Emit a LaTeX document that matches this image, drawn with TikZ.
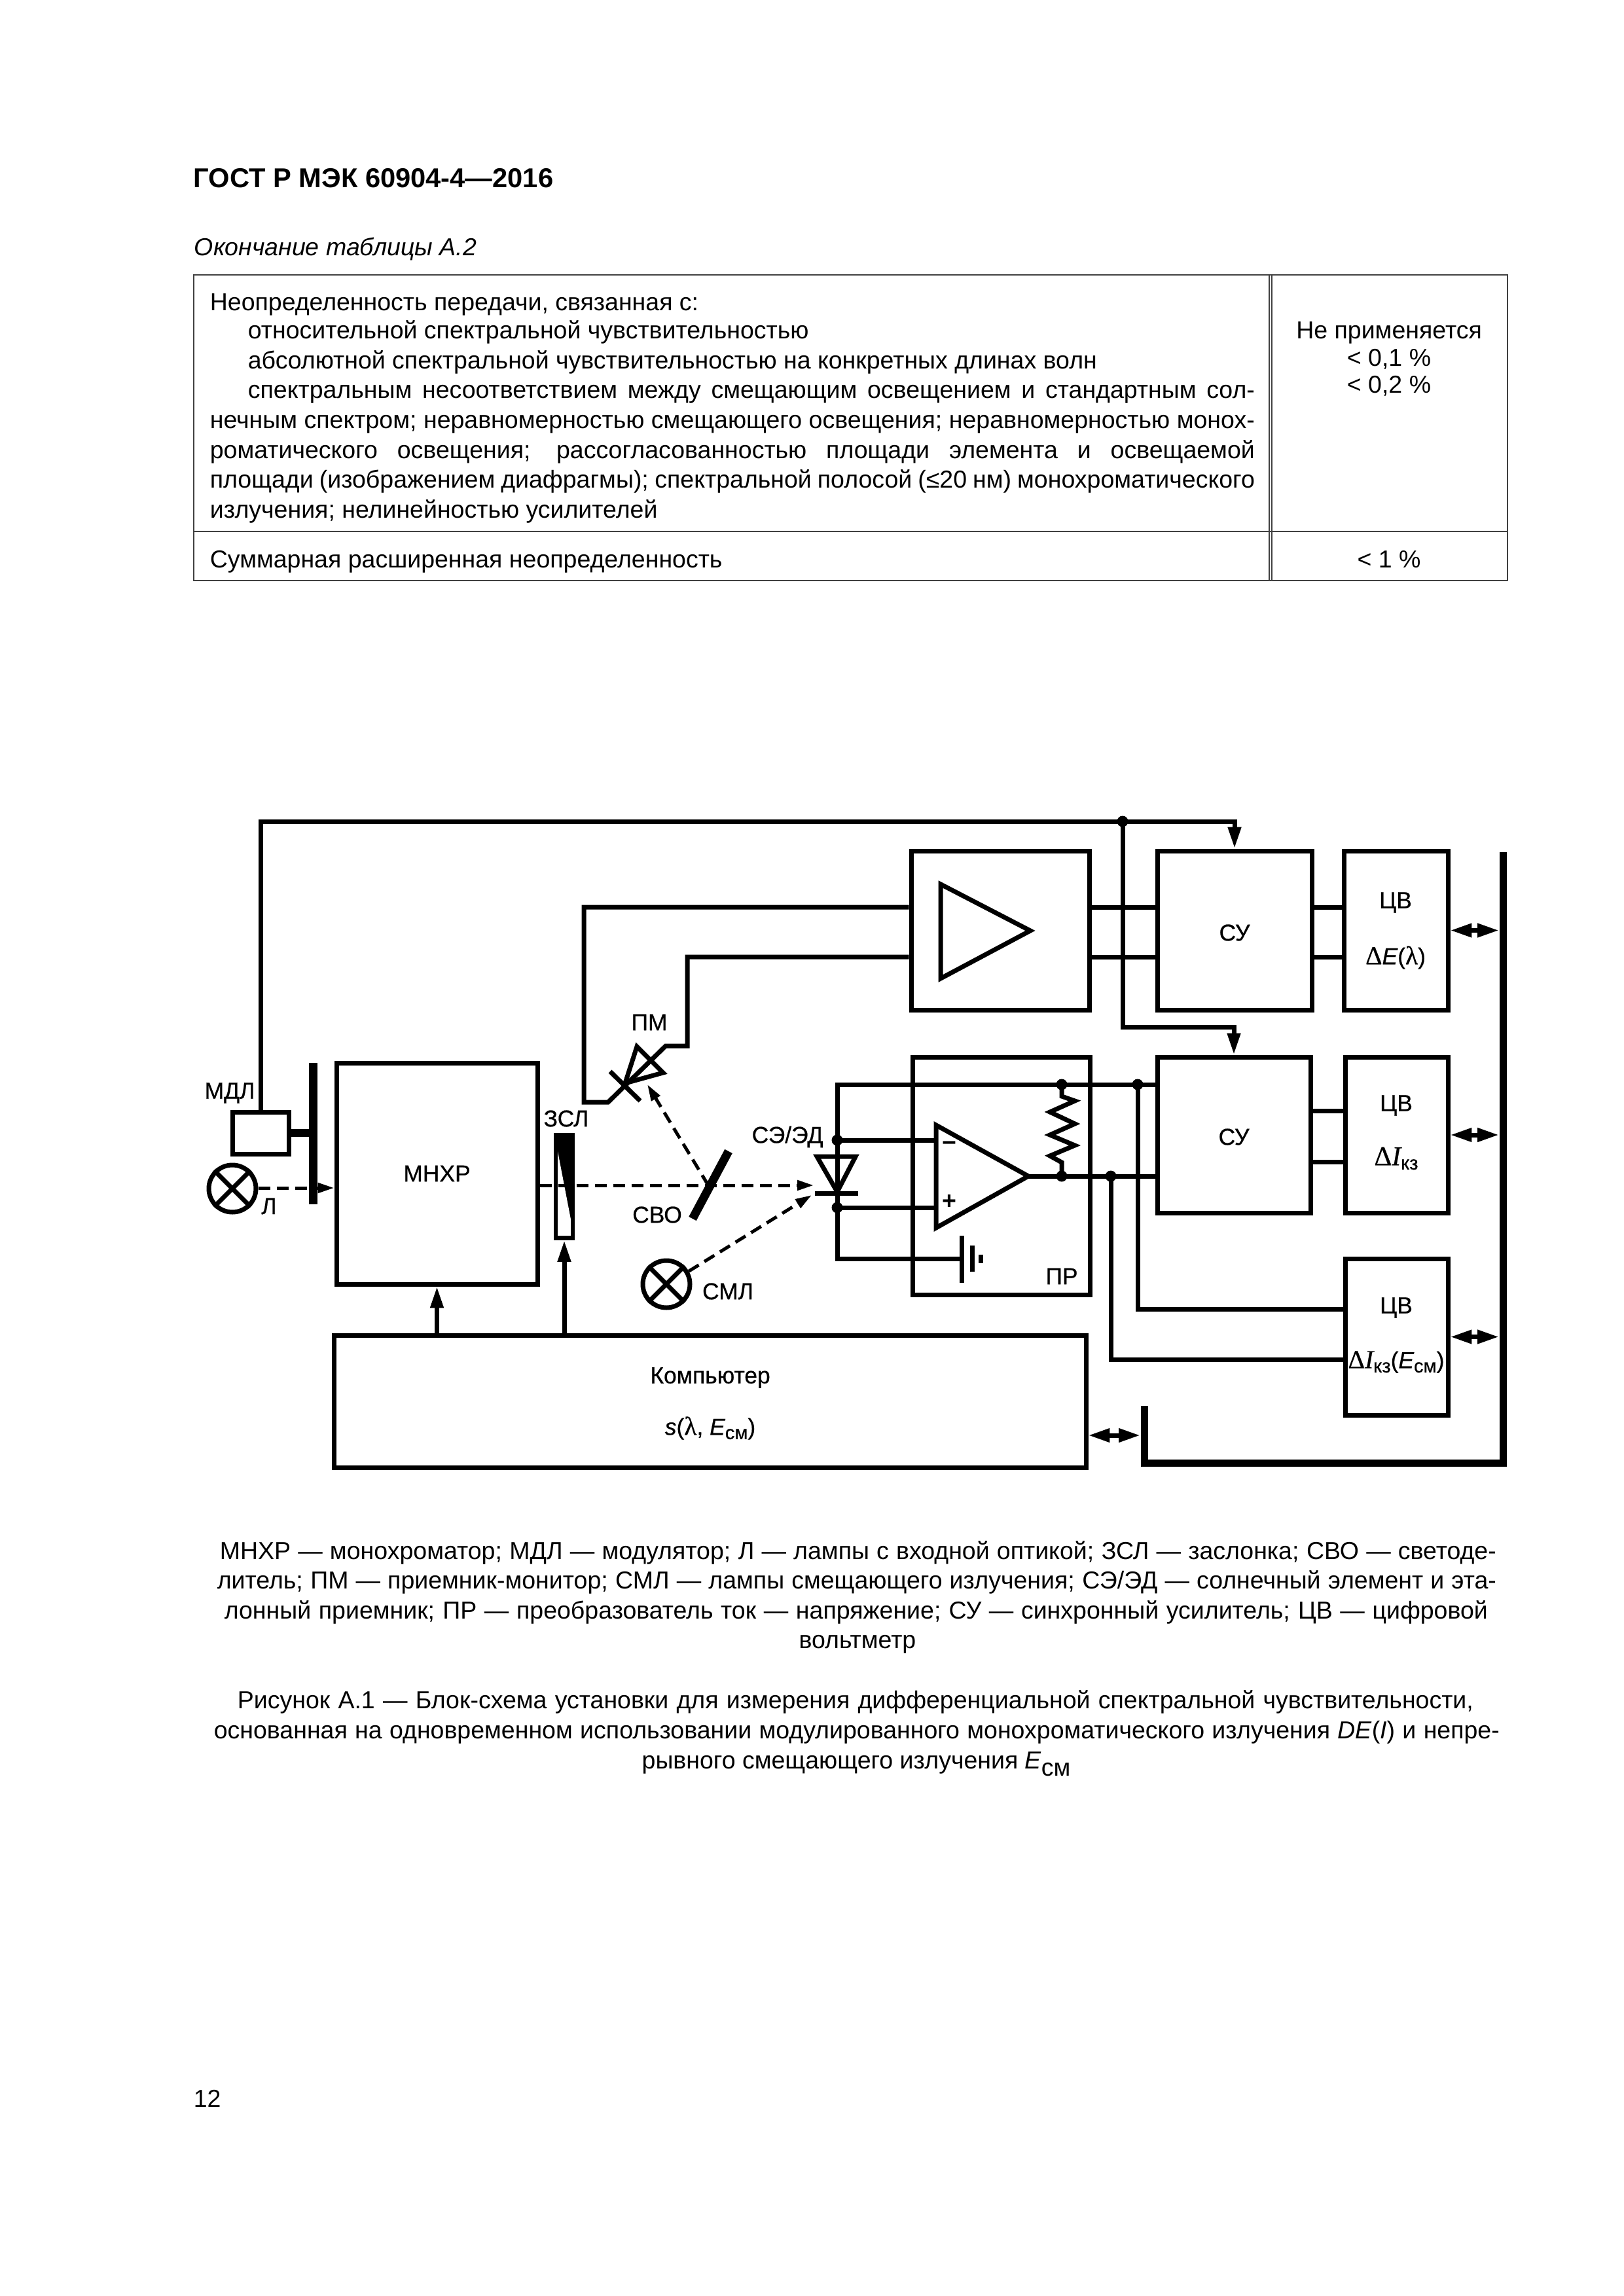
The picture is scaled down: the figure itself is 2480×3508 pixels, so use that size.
\documentclass[tikz,border=0pt]{standalone}
\usepackage{fontspec}
\setmainfont{Liberation Sans}
\newfontfamily\labf[FakeBold=0.6]{Liberation Sans}
\newfontfamily\symb{Liberation Serif}
\newfontfamily\symbb[FakeBold=0.6]{Liberation Serif}
\usetikzlibrary{arrows.meta}
\newcommand{\sbs}[1]{\raisebox{-0.35ex}{\fontsize{7}{8}\selectfont #1}}
\newcommand{\fitline}[2]{\makebox[\dimexpr 0.24pt*#1\relax][s]{#2}}
\tikzset{
  wire/.style={line width=7*0.24pt},
  box/.style 2 args={draw,line width=7*0.24pt,inner sep=0pt,minimum width=#1*0.24pt,minimum height=#2*0.24pt,font=\fontsize{8.5}{10}\labf},
  lab/.style={inner sep=0pt,font=\fontsize{8.5}{10}\labf},
  txt/.style={inner sep=0pt,anchor=base west,font=\fontsize{9}{11}\selectfont},
  ctr/.style={inner sep=0pt,anchor=base,font=\fontsize{9}{11}\selectfont},
  rule/.style={line width=2*0.24pt,black!75},
  lamp/.style={circle,draw,line width=7*0.24pt,minimum size=72*0.24pt,inner sep=0pt},
  dotn/.style={circle,fill=black,minimum size=17*0.24pt,inner sep=0pt},
  ray/.style={line width=5*0.24pt,dash pattern=on 18*0.24pt off 10*0.24pt,-{Triangle[length=6pt,width=3.6pt]}},
  sig/.style={wire,-{Triangle[length=7.9pt,width=4.6pt]}},
  both/.style={wire,{Triangle[length=7.9pt,width=4.8pt]}-{Triangle[length=7.9pt,width=4.8pt]}}
}
\begin{document}
\begin{tikzpicture}[x=0.24pt,y=-0.24pt]
  \useasboundingbox[fill=white] (0,0) rectangle (2480,3508);

  \node[txt,font=\fontsize{10}{11}\selectfont\bfseries] (head) at (295,287) {ГОСТ Р МЭК 60904-4—2016};
  \node[txt,font=\fontsize{9}{11}\selectfont\itshape] (cont) at (296,391) {Окончание таблицы А.2};

  % table
  \draw[rule] (296,420) rectangle (2303,887);
  \draw[rule] (296,812) -- (2303,812);
  \draw[rule] (1939,420) -- (1939,887);
  \draw[rule] (1943,420) -- (1943,887);
  \node[txt] (t1) at (320,475) {Неопределенность передачи, связанная с:};
  \node[txt] (t2) at (378,518) {относительной спектральной чувствительностью};
  \node[txt] (t3) at (378,564) {абсолютной спектральной чувствительностью на конкретных длинах волн};
  \node[txt] (t4) at (378,609) {\fitline{1538}{спектральным несоответствием между смещающим освещением и стандартным сол-}};
  \node[txt] (t5) at (320,655) {\fitline{1596}{нечным спектром; неравномерностью смещающего освещения; неравномерностью монох-}};
  \node[txt] (t6) at (320,701) {\fitline{1596}{роматического освещения; рассогласованностью площади элемента и освещаемой}};
  \node[txt] (t7) at (320,746) {\fitline{1596}{площади (изображением диафрагмы); спектральной полосой (≤20 нм) монохроматического}};
  \node[txt] (t8) at (320,792) {излучения; нелинейностью усилителей};
  \node[txt] (t9) at (320,868) {Суммарная расширенная неопределенность};
  \node[ctr] (r1) at (2122,518) {Не применяется};
  \node[ctr] (r2) at (2122,560) {< 0,1 \%};
  \node[ctr] (r3) at (2122,601) {< 0,2 \%};
  \node[ctr] (r4) at (2122,868) {< 1 \%};

  % boxes
  \node[box={86}{64}] (mdl) at (398,1731) {};
  \node[box={307}{338}] (mnhr) at (667.5,1793) {МНХР};
  \node[box={1149}{202}] (comp) at (1084.5,2141) {};
  \node[box={272}{243}] (amp) at (1528,1421.5) {};
  \node[box={236}{243}] (su1) at (1886,1421.5) {};
  \node[box={159}{243}] (cv1) at (2132.5,1421.5) {};
  \node[box={271}{363}] (pr) at (1529.5,1796.5) {};
  \node[box={234}{238}] (su2) at (1885,1734) {};
  \node[box={157}{238}] (cv2) at (2133.5,1734) {};
  \node[box={157}{239}] (cv3) at (2133.5,2042.5) {};
  \node[lamp] (lamp1) at (355,1816) {};
  \node[lamp] (lamp2) at (1018,1962) {};
  \foreach \name in {lamp1,lamp2} {
    \draw[wire] (\name.45) -- (\name.225);
    \draw[wire] (\name.135) -- (\name.-45);
  }

  % labels
  \node[lab] (lmdl) at (351,1670) {МДЛ};
  \node[lab] (ll) at (411,1843) {Л};
  \node[lab] (lzsl) at (865,1709) {ЗСЛ};
  \node[lab] (lpm) at (992,1562) {ПМ};
  \node[lab] (lsvo) at (1004,1856) {СВО};
  \node[lab] (lsml) at (1112,1973) {СМЛ};
  \node[lab] (lsed) at (1203,1737) {СЭ/ЭД};
  \node[lab] (lpr) at (1622,1950) {ПР};
  \node[lab] (lsu1) at (1886,1425) {СУ};
  \node[lab] (lsu2) at (1885,1737) {СУ};
  \node[lab] (lcomp) at (1085,2105) {Компьютер};
  \node[lab] (ls) at (1085,2182) {{\itshape s}({\symbb\fontsize{9.5}{10}\selectfont λ}, {\itshape E}\sbs{см})};
  \node[lab] (c1a) at (2132,1379) {ЦВ};
  \node[lab] (c1b) at (2132,1463) {{\symbb\fontsize{9.5}{10}\selectfont Δ}{\itshape E}({\symbb\fontsize{9.5}{10}\selectfont λ})};
  \node[lab] (c2a) at (2133,1689) {ЦВ};
  \node[lab] (c2b) at (2133,1770) {{\symbb\fontsize{10}{10}\selectfont Δ\itshape I}\sbs{кз}};
  \node[lab] (c3a) at (2133,1998) {ЦВ};
  \node[lab] (c3b) at (2133,2081) {{\symbb\fontsize{9.5}{10}\selectfont Δ\itshape I}\sbs{кз}({\itshape E}\sbs{см})};
  \node[lab,font=\fontsize{9}{10}\selectfont\bfseries] (lminus) at (1450,1751) {−};
  \node[lab,font=\fontsize{9}{10}\selectfont\bfseries] (lplus) at (1450,1836) {+};

  % junctions
  \foreach \name/\xx/\yy in {j0/1715/1255, j1/1279/1742, j2/1279/1845, j3/1622/1657, j4/1738/1657, j5/1622/1797, j6/1697/1797}
    \node[dotn] (\name) at (\xx,\yy) {};

  % amplifiers
  \draw[wire] (1437,1351) -- (1437,1495) -- (1574,1422) -- cycle;
  \draw[wire] (1430,1719) -- (1430,1876) -- (1571,1797) -- cycle;
  \coordinate (oain) at (1430,1797);
  \coordinate (oaout) at (1571,1797);

  % modulator, shutter, mirror
  \draw[line width=13*0.24pt] (478,1624) -- (478,1840);
  \draw[line width=12*0.24pt] (mdl.east) -- (478,1731);
  \fill (849,1734) rectangle (875,1892);
  \fill[white] (852,1759) -- (852,1888) -- (872,1888) -- (872,1863) -- cycle;
  \draw[line width=6*0.24pt] (849,1734) rectangle (875,1892);
  \coordinate (zsl) at (862,1895);
  \draw[line width=13*0.24pt] (1113,1759) -- (1058,1862);

  % optical paths
  \coordinate (se1) at (1243,1811);
  \coordinate (se2) at (1240,1826);
  \coordinate (sv) at (1082,1811);
  \coordinate (pm) at (989,1657);
  \draw[ray] (lamp1.east |- 0,1815) -- (mnhr.west |- 0,1815);
  \draw[ray] (mnhr.east |- 0,1811) -- (se1);
  \draw[ray] (sv) -- (pm);
  \draw[ray] (lamp2.30) -- (se2);

  % monitor
  \draw[wire] (973,1599) -- (1013,1639) -- (955,1655) -- cycle;
  \draw[wire] (932,1637) -- (978,1682);
  \draw[wire] (amp.west |- 0,1386) -- (892,1386) -- (892,1684) -- (929,1684) -- (1017,1598) -- (1050,1598) -- (1050,1462) -- (amp.west |- 0,1462);
  \foreach \yy in {1386,1462} {
    \draw[wire] (amp.east |- 0,\yy) -- (su1.west |- 0,\yy);
    \draw[wire] (su1.east |- 0,\yy) -- (cv1.west |- 0,\yy);
  }

  % control lines
  \draw[sig] (mdl.north) |- (j0.center) -| (su1.north);
  \draw[sig] (j0.center) -- (1715,1569) -| (su2.north);
  \draw[sig] (comp.north -| mnhr.south) -- (mnhr.south);
  \draw[sig] (comp.north -| zsl) -- (zsl);

  % photocell and converter
  \draw[wire] (su2.west |- 0,1657) -- (1279,1657) -- (1279,1923) -- (1469,1923);
  \draw[wire] (j1.center) -- (oain |- j1);
  \draw[wire] (j2.center) -- (oain |- j2);
  \draw[wire] (oaout) -- (oaout -| su2.west);
  \draw[wire] (1248,1767) -- (1307,1767) -- (1279,1821) -- cycle;
  \draw[wire] (1245,1823) -- (1311,1823);
  \draw[wire] (j3.center) -- (1622,1675) -- (1642,1682) -- (1604,1699) -- (1642,1717) -- (1604,1734) -- (1642,1750) -- (1604,1766) -- (1622,1776) -- (j5.center);
  \draw[wire] (1469,1888) -- (1469,1960);
  \draw[wire] (1485,1903) -- (1485,1943);
  \draw[wire] (1498,1917) -- (1498,1930);
  \foreach \yy in {1697,1775}
    \draw[wire] (su2.east |- 0,\yy) -- (cv2.west |- 0,\yy);
  \draw[wire] (j4.center) |- (cv3.west |- 0,2000);
  \draw[wire] (j6.center) |- (cv3.west |- 0,2077);

  % bus
  \draw[line width=11*0.24pt] (2296,1302) -- (2296,2235) -- (1748,2235) -- (1748,2148);
  \coordinate (busl) at (2290,1302);
  \coordinate (busk) at (1742,2193);
  \foreach \from in {cv1,cv2,cv3}
    \draw[both] (\from.east) -- (\from.east -| busl);
  \draw[both] (comp.east |- busk) -- (busk);

  % caption
  \node[txt] (k1) at (335,2382) {\fitline{1950}{МНХР — монохроматор; МДЛ — модулятор; Л — лампы с входной оптикой; ЗСЛ — заслонка; СВО — светоде-}};
  \node[txt] (k2) at (331,2427) {\fitline{1954}{литель; ПМ — приемник-монитор; СМЛ — лампы смещающего излучения; СЭ/ЭД — солнечный элемент и эта-}};
  \node[txt] (k3) at (342,2473) {\fitline{1930}{лонный приемник; ПР — преобразователь ток — напряжение; СУ — синхронный усилитель; ЦВ — цифровой}};
  \node[ctr] (k4) at (1310,2518) {вольтметр};
  \node[txt] (f1) at (362,2610) {\fitline{1888}{Рисунок  А.1 — Блок-схема установки для измерения дифференциальной спектральной чувствительности,}};
  \node[txt] (f2) at (326,2656) {\fitline{1964}{основанная на одновременном использовании модулированного монохроматического излучения {\itshape DE}({\itshape I}) и непре-}};
  \node[ctr] (f3) at (1308,2702) {рывного смещающего излучения {\itshape E}\raisebox{-0.6ex}{\fontsize{9}{10}\selectfont см}};

  \node[txt] (page) at (295,3219) {12};
\end{tikzpicture}
\end{document}
